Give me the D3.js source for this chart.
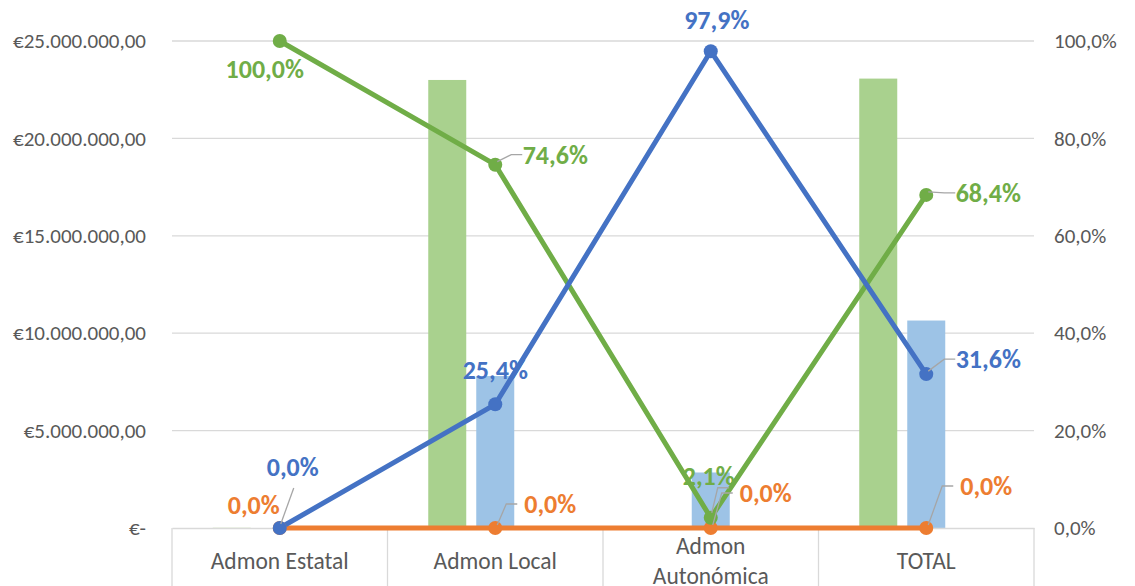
<!DOCTYPE html>
<html>
<head>
<meta charset="utf-8">
<script src="https://cdn.jsdelivr.net/npm/d3@7"></script>
<style>
  body { margin: 0; background: #fff; }
  svg text { font-family: Carlito, Lato, "Open Sans", sans-serif; }
</style>
</head>
<body>
<div id="chart"></div>
<script>

// data
var categories = ["Admon Estatal", "Admon Local", "Admon Autonómica", "TOTAL"];
var barSeries = ["verde", "azul", "naranja"];
var barVerde = [10000, 23000000, 60000, 23070000];
var barAzul = [0, 7800000, 2850000, 10650000];
var barNaranja = [0, 0, 0, 0];
var pctVerde = [1.0, 0.746, 0.021, 0.684];
var pctAzul = [0.0, 0.254, 0.979, 0.316];
var pctNaranja = [0.0, 0.0, 0.0, 0.0];
var leftTicks = [0, 5000000, 10000000, 15000000, 20000000, 25000000];
var rightTicks = [0, 0.2, 0.4, 0.6, 0.8, 1.0];

var width = 1135, height = 586;
var margin = {top: 41, right: 101, bottom: 58, left: 172};
var plotW = width - margin.left - margin.right;
var plotH = height - margin.top - margin.bottom;

var colors = {
  verde: "#70AD47", azul: "#4472C4", naranja: "#ED7D31",
  barVerde: "#A9D18E", barAzul: "#9DC3E6", barNaranja: "#F4B183"
};

var svg = d3.select("#chart")
  .append("svg")
  .attr("width", width)
  .attr("height", height);

var g = svg.append("g")
  .attr("transform", "translate(" + margin.left + "," + margin.top + ")");

var x = d3.scaleBand()
  .domain(categories)
  .range([0, plotW])
  .padding(0);

var xSub = d3.scaleBand()
  .domain(barSeries)
  .range([-67, 67])
  .paddingInner(10 / 48)
  .paddingOuter(0);

var yLeft = d3.scaleLinear()
  .domain([0, 25000000])
  .range([plotH, 0]);

var yRight = d3.scaleLinear()
  .domain([0, 1])
  .range([plotH, 0]);

var euro = function(v) {
  if (v === 0) return "€-";
  var s = d3.format(",.2f")(v);
  s = s.replace(/,/g, "#").replace(".", ",").replace(/#/g, ".");
  return "€" + s;
};
var pct = function(v) {
  return d3.format(".1f")(v * 100).replace(".", ",") + "%";
};

// gridlines
g.selectAll(".grid")
  .data(leftTicks.slice(1))
  .enter()
  .append("line")
  .attr("x1", 0)
  .attr("x2", plotW)
  .attr("y1", function(d) { return yLeft(d); })
  .attr("y2", function(d) { return yLeft(d); })
  .attr("stroke", "#d9d9d9")
  .attr("stroke-width", 1.3);

// left axis
var leftAxis = g.append("g")
  .call(d3.axisLeft(yLeft).tickValues(leftTicks).tickFormat(euro).tickSize(0).tickPadding(26));
leftAxis.select(".domain").remove();
leftAxis.selectAll("text")
  .attr("fill", "#595959")
  .attr("font-size", "21px");

// right axis
var rightAxis = g.append("g")
  .attr("transform", "translate(" + plotW + ",0)")
  .call(d3.axisRight(yRight).tickValues(rightTicks).tickFormat(pct).tickSize(0).tickPadding(20));
rightAxis.select(".domain").remove();
rightAxis.selectAll("text")
  .attr("fill", "#595959")
  .attr("font-size", "21px");

// bars
var barData = [];
categories.forEach(function(c, i) {
  barData.push({cat: c, s: "verde", v: barVerde[i], color: colors.barVerde});
  barData.push({cat: c, s: "azul", v: barAzul[i], color: colors.barAzul});
  barData.push({cat: c, s: "naranja", v: barNaranja[i], color: colors.barNaranja});
});

g.selectAll(".bar")
  .data(barData)
  .enter()
  .append("rect")
  .attr("class", "bar")
  .attr("x", function(d) { return x(d.cat) + x.bandwidth() / 2 + xSub(d.s); })
  .attr("y", function(d) { return yLeft(d.v); })
  .attr("width", xSub.bandwidth())
  .attr("height", function(d) { return plotH - yLeft(d.v); })
  .attr("fill", function(d) { return d.color; });

// x axis
var xAxis = g.append("g")
  .attr("transform", "translate(0," + plotH + ")")
  .call(d3.axisBottom(x).tickSize(0).tickFormat(""));
xAxis.select(".domain")
  .attr("stroke", "#d9d9d9")
  .attr("stroke-width", 1.3);

var seps = d3.range(categories.length + 1).map(function(i) { return i * x.step(); });
xAxis.selectAll(".sep")
  .data(seps)
  .enter()
  .append("line")
  .attr("x1", function(d) { return d; })
  .attr("x2", function(d) { return d; })
  .attr("y1", 0)
  .attr("y2", margin.bottom)
  .attr("stroke", "#d9d9d9")
  .attr("stroke-width", 1.3);

xAxis.selectAll(".cat")
  .data(categories)
  .enter()
  .append("text")
  .attr("class", "cat")
  .attr("x", function(d) { return x(d) + x.bandwidth() / 2; })
  .attr("y", 0)
  .attr("fill", "#595959")
  .attr("font-size", "23.5px")
  .attr("text-anchor", "middle")
  .each(function(d) {
    var t = d3.select(this);
    var parts = d === "Admon Autonómica" ? ["Admon", "Autonómica"] : [d];
    parts.forEach(function(p, k) {
      t.append("tspan")
        .attr("x", x(d) + x.bandwidth() / 2)
        .attr("y", parts.length > 1 ? 26 + k * 30 : 41)
        .text(p);
    });
  });

// lines
var lineSeries = [
  {name: "naranja", vals: pctNaranja, color: colors.naranja},
  {name: "verde", vals: pctVerde, color: colors.verde},
  {name: "azul", vals: pctAzul, color: colors.azul}
];

var line = d3.line()
  .x(function(d, i) { return x(categories[i]) + x.bandwidth() / 2; })
  .y(function(d) { return yRight(d); });

// label offsets from each point [dx, dy, leader line]
var labelPos = {
  verde: [[-15, 28, 0], [60, -10, 1], [-2, -42, 1], [62, -2, 1]],
  azul: [[13, -61, 1], [0, -34, 0], [6, -31, 0], [62, -15, 1]],
  naranja: [[-26, -23, 0], [55, -24, 1], [55, -35, 1], [60, -42, 1]]
};

lineSeries.forEach(function(s) {
  g.append("path")
    .datum(s.vals)
    .attr("fill", "none")
    .attr("stroke", s.color)
    .attr("stroke-width", 5)
    .attr("stroke-linejoin", "round")
    .attr("d", line);
});

lineSeries.forEach(function(s) {
  g.selectAll(".dot-" + s.name)
    .data(s.vals)
    .enter()
    .append("circle")
    .attr("cx", function(d, i) { return x(categories[i]) + x.bandwidth() / 2; })
    .attr("cy", function(d) { return yRight(d); })
    .attr("r", 7)
    .attr("fill", s.color);
});

// leader lines
lineSeries.forEach(function(s) {
  s.vals.forEach(function(v, i) {
    var px = x(categories[i]) + x.bandwidth() / 2;
    var py = yRight(v);
    var off = labelPos[s.name][i];
    var lx = px + off[0], ly = py + off[1];
    if (off[2]) {
      var ex = lx - 36, ey = ly;
      var path = "M" + (px + 2) + "," + (py - 3) + "L" + (ex - 8) + "," + ey + "L" + (ex + 3) + "," + ey;
      if (s.name === "verde" && i === 2) {
        path = "M" + (px + 1) + "," + (py - 5) + "L" + (px + 7) + "," + (py - 30) + "L" + (px + 18) + "," + (py - 30);
      }
      if (s.name === "azul" && i === 0) {
        path = "M" + (px + 1) + "," + (py - 4) + "L" + (px + 14) + "," + (py - 40);
      }
      g.append("path")
        .attr("d", path)
        .attr("fill", "none")
        .attr("stroke", "#a6a6a6")
        .attr("stroke-width", 1.3);
    }
  });
});

// data labels
lineSeries.forEach(function(s) {
  s.vals.forEach(function(v, i) {
    var px = x(categories[i]) + x.bandwidth() / 2;
    var py = yRight(v);
    var off = labelPos[s.name][i];
    g.append("text")
      .attr("x", px + off[0])
      .attr("y", py + off[1])
      .attr("dy", "0.35em")
      .attr("text-anchor", "middle")
      .attr("font-size", "26px")
      .attr("font-weight", "bold")
      .attr("fill", s.color)
      .text(pct(v));
  });
});

</script>
</body>
</html>
